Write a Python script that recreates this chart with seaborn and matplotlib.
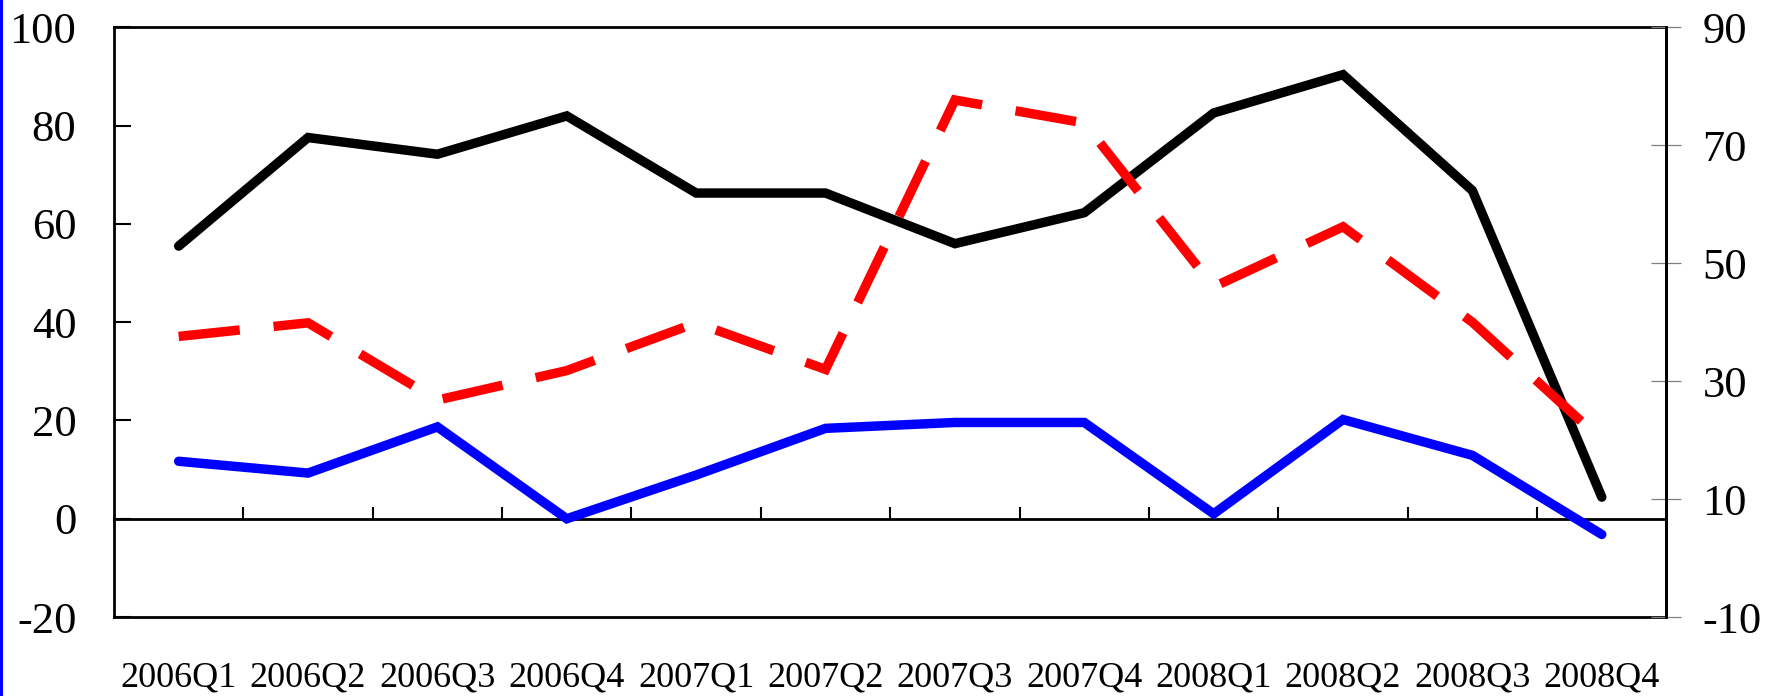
import numpy as np
import matplotlib
matplotlib.use("Agg")
import matplotlib.pyplot as plt
from matplotlib.patches import Rectangle
import seaborn as sns

# Quarterly categories
quarters = ["2006Q1", "2006Q2", "2006Q3", "2006Q4",
            "2007Q1", "2007Q2", "2007Q3", "2007Q4",
            "2008Q1", "2008Q2", "2008Q3", "2008Q4"]

# Left-axis series
black_series = [55.5, 77.6, 74.2, 82.0, 66.3, 66.3, 56.0, 62.3, 82.6, 90.4, 66.8, 4.4]
blue_series = [11.7, 9.3, 18.7, 0.0, 8.9, 18.4, 19.6, 19.6, 1.0, 20.2, 12.9, -3.2]

# Right-axis series (dashed)
red_series = [37.6, 39.9, 26.8, 31.8, 39.9, 32.0, 77.7, 73.8, 46.0, 56.2, 40.0, 20.0]

left_ticks = [-20, 0, 20, 40, 60, 80, 100]
right_ticks = [-10, 10, 30, 50, 70, 90]

sns.set_style("white")
plt.rcParams["font.family"] = ["Liberation Serif", "DejaVu Serif"]

W, H = 1781, 696
fig = plt.figure(figsize=(W / 100, H / 100), dpi=100)
fig.patch.set_facecolor("white")
ax = fig.add_axes([0.064, 0.1135, 0.8717, 0.847])

pos = np.arange(len(quarters))
LW = 6.8

sns.lineplot(x=pos, y=black_series, ax=ax, color="#000000", linewidth=LW, zorder=3)
sns.lineplot(x=pos, y=blue_series, ax=ax, color="#0000FF", linewidth=LW, zorder=3)
for ln in ax.get_lines():
    ln.set_linewidth(LW)
    ln.set_solid_capstyle("round")
    ln.set_solid_joinstyle("miter")

ax.set_xlim(-0.5, len(quarters) - 0.5)
ax.set_ylim(left_ticks[0], left_ticks[-1])
ax.set_yticks(left_ticks)
ax.set_yticklabels([str(v) for v in left_ticks])
ax.set_xticks(pos)
ax.set_xticklabels(quarters)
ax.tick_params(axis="x", length=0, labelsize=26, pad=32, colors="black")
ax.tick_params(axis="y", direction="in", length=12, width=1.5, labelsize=32,
               pad=27, colors="black", left=True, right=False)
for side in ["left", "right", "top", "bottom"]:
    ax.spines[side].set_visible(True)
    ax.spines[side].set_color("black")
    ax.spines[side].set_linewidth(2)

# Category axis crossing at zero, with boundary ticks between quarters
zero_frac = (0 - left_ticks[0]) / (left_ticks[-1] - left_ticks[0])
zaxis = ax.secondary_xaxis(zero_frac)
zaxis.set_xticks(np.arange(0.5, len(quarters) - 1, 1.0))
zaxis.set_xticklabels([])
zaxis.tick_params(axis="x", direction="in", length=9, width=1.5, colors="black")
zaxis.spines["bottom"].set_linewidth(2)
zaxis.spines["bottom"].set_color("black")

# Secondary value axis for the dashed series
ax2 = ax.twinx()
sns.lineplot(x=pos, y=red_series, ax=ax2, color="#FF0000", linewidth=LW, zorder=3)
ln = ax2.get_lines()[-1]
ln.set_linewidth(LW)
ln.set_dashes((6.5, 3.6))
ln.set_dash_capstyle("butt")
ln.set_dash_joinstyle("miter")
ax2.set_ylim(right_ticks[0], right_ticks[-1])
ax2.set_yticks(right_ticks)
ax2.set_yticklabels([str(v) for v in right_ticks])
ax2.tick_params(axis="y", direction="inout", length=21.6, width=0.9,
                color="#808080", labelcolor="black", labelsize=32, pad=15,
                right=True, left=False)
ax2.spines["right"].set_linewidth(2)
ax2.spines["right"].set_color("black")
for side in ["left", "top", "bottom"]:
    ax2.spines[side].set_visible(False)
ax2.set_ylabel("")
ax.set_ylabel("")
ax.set_xlabel("")

# Thin blue edge strip along the left side of the canvas
fig.add_artist(Rectangle((0, 0), 3 / W, 1, transform=fig.transFigure,
                         facecolor="#0000FF", edgecolor="none"))

fig.savefig("out.png", dpi=100, facecolor="white")
